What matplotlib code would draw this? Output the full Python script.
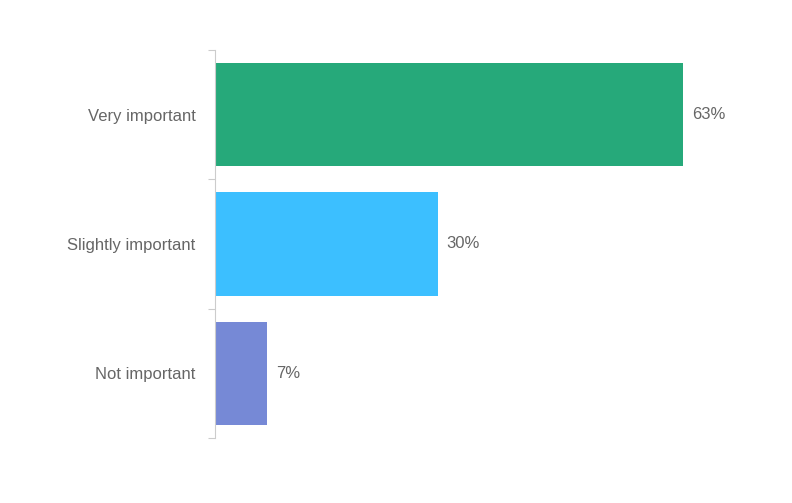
import matplotlib
matplotlib.use("Agg")
import matplotlib.pyplot as plt

categories = ["Very important", "Slightly important", "Not important"]
values = [63, 30, 7]
colors = ["#26a97a", "#3cbfff", "#7689d6"]

plt.rcParams['font.family'] = ['Liberation Sans', 'DejaVu Sans']

fig = plt.figure(figsize=(7.92, 5.03), dpi=100)
ax = fig.add_axes([215 / 792, 1 - 438 / 503, 520 / 792, 388 / 503])

pos = list(range(len(categories)))
ax.barh(pos, values, height=0.8, color=colors)
ax.set_xlim(0, 70)
ax.set_ylim(len(categories) - 0.5, -0.5)

for p, v in zip(pos, values):
    ax.text(v + 1.2, p, f"{v}%", va="center", ha="left", fontsize=12, color="#666666")

for s in ["top", "right", "bottom"]:
    ax.spines[s].set_visible(False)
ax.spines["left"].set_color("#cccccc")
ax.set_xticks([])
ax.set_yticks([-0.5, 0.5, 1.5, 2.5])
ax.set_yticklabels([])
ax.set_yticks(pos, minor=True)
ax.set_yticklabels(categories, minor=True)
ax.tick_params(axis="y", which="major", length=5, color="#cccccc")
ax.tick_params(axis="y", which="minor", length=0, pad=14, labelsize=12, labelcolor="#666666")

fig.savefig("out.png", dpi=100)
